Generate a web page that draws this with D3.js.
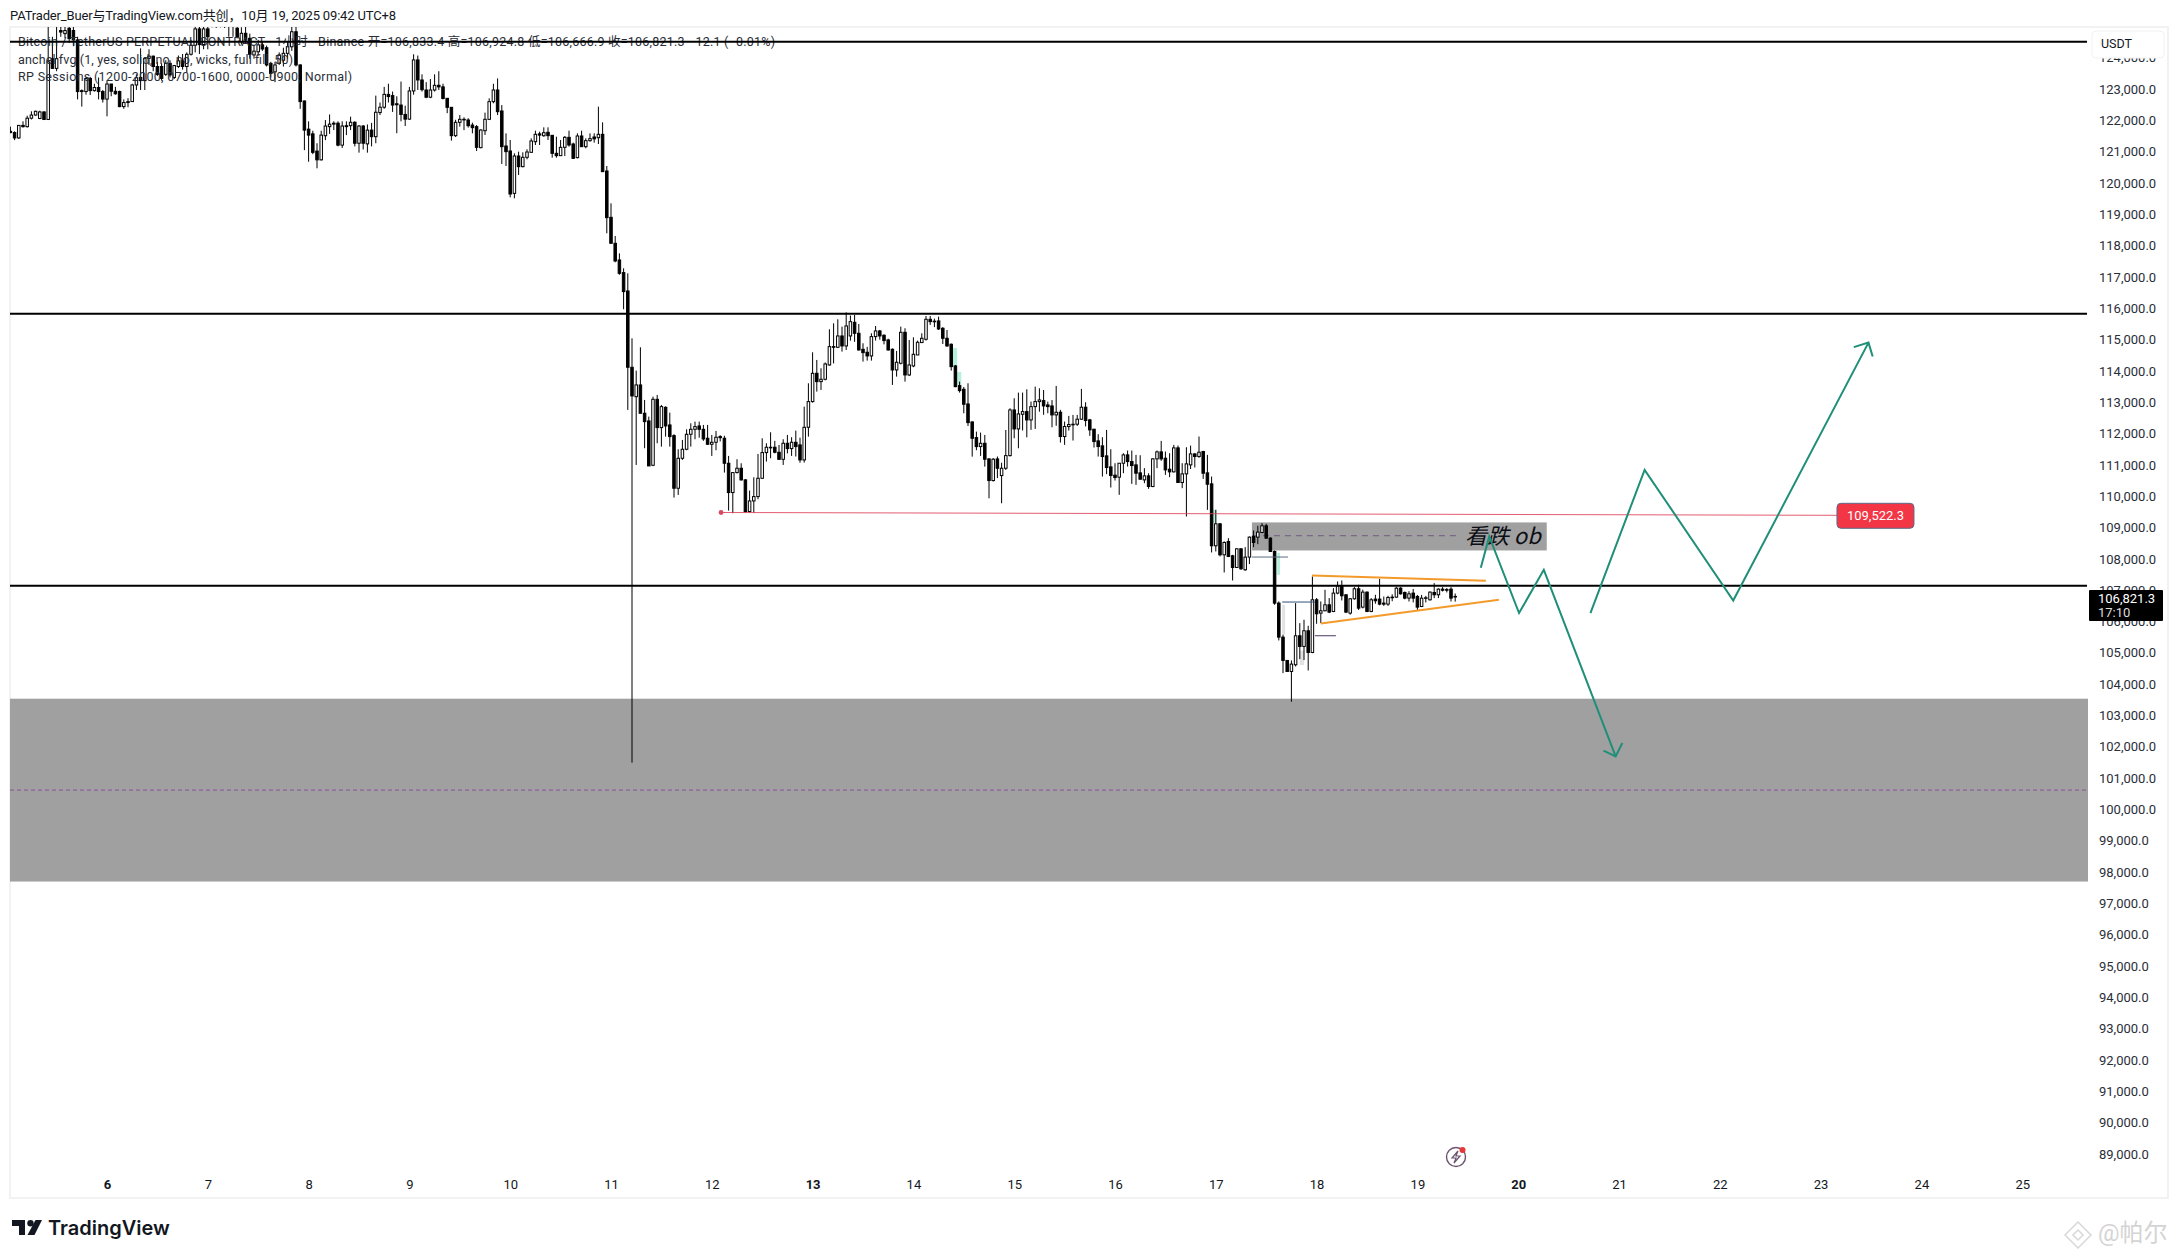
<!DOCTYPE html>
<html lang="zh">
<head>
<meta charset="UTF-8">
<title>BTCUSDT 1h</title>
<script src="https://d3js.org/d3.v7.min.js"></script>
<style>
  html, body { margin: 0; padding: 0; background: #fff; }
  svg { display: block; }
  text { font-family: Roboto, "Noto Sans CJK SC", sans-serif; fill: #131722; }
  .price-axis text, .time-axis text { font-size: 13px; }
  .price-axis text { fill: #2a2e39; }
  .time-axis .bold { font-weight: 700; }
  .legend text { font-size: 12.5px; fill: #2a2e39; }
</style>
</head>
<body>
<svg id="chart" width="2178" height="1258"></svg>
<script>
// first candle is 23 hours before Oct 6 00:00 (UTC+8), one candle per hour
const firstHour = -23;
const opens = [121680,121640,121470,121870,121830,122100,122200,122090,122300,122060,124000,123690,124900,124800,124970,124900,124600,122950,122950,123370,122980,123080,122950,122710,123190,122960,122950,122470,122600,122630,123160,123400,123300,124010,124080,123750,123750,123500,123850,123400,123750,123930,123750,124140,124430,124950,124450,124950,
125400,125600,125300,125700,125400,125100,124970,124540,124810,124650,124120,124220,124440,124350,123850,123580,123850,123950,124170,124380,124860,123800,122650,121750,121600,121050,120770,121540,121830,121910,121940,121240,121860,121860,121970,121300,121850,121280,121720,121510,122280,122450,122860,122820,122560,122520,122220,122070,122970,123960,123320,123000,122770,123000,123150,123100,122734,122447,121542,121968,122064,122042,121880,121830,121160,121700,122064,122628,123000,122330,121212,121053,119700,120893,120553,120851,121010,121350,121600,121540,121650,121553,120978,120904,121170,121489,121276,120840,121532,121191,121383,121500,121478,121585,120415,118935,118106,117574,117170,
116584,114148,113210,113584,112680,112435,111020,113126,112222,112870,112307,111966,110286,111243,111530,112009,112168,112275,112168,111882,111690,111754,111935,111882,111084,110148,110786,110925,110553,109541,109881,110020,110605,111424,111595,111595,111435,111210,111722,111552,111754,111670,111190,112232,113052,113956,113690,113765,114222,114808,114786,115148,114829,115148,115584,115233,114722,114627,114510,115127,115308,115170,115021,114722,114063,114276,115265,113903,114190,114541,114936,115042,115680,115620,115627,115393,115073,114882,114190,113563,113446,112977,112403,111903,111616,111722,111222,110531,111222,110690,110925,111328,112786,112180,112648,112733,112467,112892,113052,113084,112945,112914,112627,
112713,111937,112256,112320,112330,112490,112873,112469,112171,111798,111639,111319,110968,110703,110639,111085,111351,111138,111032,110777,110553,110681,110341,111224,111447,111245,110894,110809,111575,110469,110745,111032,111383,111298,111458,110777,110426,108449,109151,108161,108587,108130,107757,108353,107683,108087,108747,108725,108874,109087,108693,108268,106619,105533,104789,104437,104650,105576,105236,105736,105044,106725,106300,106374,106565,106353,106938,107172,106885,106300,106757,107076,106491,106970,106353,106747,106747,106619,106587,106810,106810,107097,106959,106778,106938,106831,106512,106778,106725,106959,106885,107065,107050,107065,106833];
const highs = [121830,121680,121880,122000,122180,122320,122340,122340,122320,125100,124700,125100,125100,125100,125100,125100,124700,123020,123400,123420,123200,123400,123000,123300,123200,123100,122980,122700,122740,123200,123500,124330,124050,124300,124100,123900,123850,123950,123950,123800,124100,124150,124200,124600,125100,125200,125200,125200,
125900,125900,126000,126100,125700,125600,125200,125000,125100,124800,124450,124600,124550,124420,123900,123900,124200,124350,124550,125100,125100,123820,122660,122000,121700,121300,121700,122040,122220,122000,122000,122000,122000,122150,122000,121880,121880,121900,121950,122820,122600,123100,123200,122950,122800,123270,122500,123100,124140,124100,123500,123250,123350,123500,123600,123200,122734,122447,122050,122200,122128,122100,121957,121880,121745,122277,122734,123200,123370,122520,121617,121404,120978,121032,121010,121106,121457,121702,121670,121808,121808,121564,121510,121404,121532,121702,121319,121617,121702,121457,121617,121617,122468,121968,120574,119382,118340,117786,117308,
117148,115073,114041,114786,113105,112573,113211,113265,112945,112900,112700,112009,111530,111828,112168,112360,112413,112413,112307,112307,111988,112116,111980,111960,111318,110800,111212,111084,110580,110212,110637,111381,111881,111722,112073,111800,111669,111850,111988,111914,112126,111900,112892,113637,114627,114382,114116,114300,115361,115552,115680,115446,115900,115800,115818,115531,114914,114800,115233,115467,115340,115200,115060,114750,114669,115446,115393,115020,115105,115000,115233,115786,115786,115700,115765,115430,115339,114910,114220,113690,113520,113637,112420,112094,112063,111988,111250,111250,111300,111100,112147,112840,113158,113339,113340,113445,113052,113531,113477,113424,113050,113100,113552,
112788,112415,112596,112628,112628,113458,113032,112500,112180,112011,111915,112149,111532,111085,111085,111404,111490,111490,111351,111340,110926,110766,111245,111490,111798,111458,111404,111671,111649,111085,111596,111649,111400,111937,111480,111351,110660,109598,109172,108590,108693,108160,108370,108370,108406,108747,108938,109087,109172,109151,108720,108300,106672,105608,104800,104789,106619,105980,106087,105895,107470,106780,106672,107044,106780,107097,107310,107342,106900,106780,107129,107204,107050,106990,106780,106885,107395,106830,106853,106900,107129,107130,106990,107000,107070,106880,106880,106850,106990,107257,107090,107130,107100,107130,106925];
const lows = [121620,121400,121440,121800,121800,122060,122180,122070,122040,122040,123680,123600,124700,124650,124500,124400,122700,122470,122850,122840,122950,122700,122600,122160,122800,122850,122450,122400,122450,122620,123000,123000,123000,123800,123600,123450,123300,123450,123400,123350,123700,123650,123550,124100,124200,124150,124300,124300,
125000,124980,125000,124980,124700,124700,124650,124450,124500,124000,124000,124100,124250,123750,123400,123250,123800,123750,124000,124250,123750,122400,121080,120710,120950,120500,120750,121400,121600,121720,121200,121150,121560,121720,121200,121000,121100,121000,121200,121300,122200,122400,122600,122300,121620,122000,121850,122050,122850,123000,122950,122740,122740,122950,123000,122700,122260,121383,121500,121830,121720,121800,121617,121053,121138,121564,122040,122575,122200,120638,120574,119574,119542,120287,120531,120787,121000,121244,121244,121510,121404,120840,120840,120893,120893,121191,120797,120819,121191,121138,121351,121319,121276,120393,118425,118106,117499,117100,116000,
112786,101525,111030,112680,111563,110999,110990,111722,111615,111934,111615,109987,110072,111190,111500,111615,111850,111900,111800,111670,111318,111500,111780,110786,109572,109488,110760,110530,109500,109510,109500,109934,110580,111137,111243,111400,111190,111030,111400,111318,111300,111100,111105,111934,113020,113371,113424,113730,114200,114270,114760,114648,114700,114999,114960,114680,114329,114360,114360,115000,115030,114880,114680,113584,113850,114240,113690,113870,114150,114900,115000,115000,115500,115430,115340,114892,114800,114042,113510,113340,112680,112275,111296,111500,111318,110977,109966,110500,110610,109807,110870,111300,111881,111562,112130,111913,112150,112180,112730,112630,112680,112232,112280,
111745,111671,112128,111809,112277,112470,112260,111958,111586,111298,110660,110734,110309,110532,110075,110766,110979,110426,110394,110560,110447,110266,110320,110926,111160,110713,110639,110790,110469,110288,109383,110900,110947,111260,110585,109596,108236,108268,108110,107597,108090,107342,107740,107680,107650,107864,108406,108500,108850,108670,108250,106565,105427,104384,104437,103469,104597,104831,104800,104469,105020,105959,105980,106360,106300,106330,106900,106704,106300,106250,106730,106400,106450,106330,106330,106600,106550,106530,106530,106680,106790,106890,106740,106670,106640,106400,106490,106640,106700,106780,106780,106990,106960,106670,106667];
const closes = [121640,121470,121870,121830,122100,122200,122320,122300,122060,123900,123690,124000,124850,124900,124640,124600,122950,122980,123370,122980,123080,122950,122710,123190,122960,122880,122470,122600,122630,123160,123390,123300,124010,124080,123750,123500,123370,123850,123480,123780,123930,123750,124140,124430,124950,124450,124950,124700,
125600,125300,125700,125400,125100,125300,124700,124810,124600,124140,124240,124440,124310,123800,123530,123800,124120,124170,124380,124860,123800,122630,121720,121560,121010,120770,121560,121850,121910,121940,121240,121850,121830,121970,121300,121850,121300,121720,121510,122290,122450,122860,122790,122520,122530,122220,122070,122970,123960,123320,123010,122770,123000,123150,123100,122730,122447,121542,121968,122064,122050,121860,121798,121170,121723,122064,122628,123000,122308,121191,121032,119680,120893,120553,120851,121021,121372,121585,121560,121638,121542,120978,120904,121170,121489,121244,120819,121532,121191,121383,121447,121440,121585,120393,118925,118106,117542,117148,116563,
114148,113233,113584,112680,112413,110999,113126,112222,112892,112275,111935,110286,111243,111530,112009,112168,112254,112168,111860,111690,111754,111914,111900,111084,110148,110786,110925,110553,109541,109881,110020,110605,111424,111595,111580,111435,111210,111722,111552,111754,111616,111190,112232,113052,113956,113690,113765,114254,114808,114786,115148,114829,115467,115605,115233,114701,114616,114510,115127,115308,115148,115000,114701,114063,114308,115265,113903,114222,114562,114946,115073,115680,115605,115620,115371,115073,114829,114169,113531,113403,112967,112381,111881,111616,111722,111212,110531,111212,110925,110925,111328,112786,112180,112658,112733,112466,112892,113052,113105,112914,112892,112627,112712,
111937,112256,112320,112330,112490,112873,112447,112149,111777,111617,111298,110947,110692,110628,111085,111351,111138,111010,110766,110575,110681,110341,111224,111447,111224,110873,110809,111575,110469,110745,111064,111383,111298,111436,110766,110415,108449,109151,108161,108555,108108,107757,108353,107715,108087,108725,108555,108885,109087,108693,108268,106619,105533,104789,104437,104672,105576,105236,105736,105044,106725,106278,106374,106565,106331,106938,107172,106853,106331,106757,107076,106459,106970,106353,106725,106693,106587,106587,106799,106800,107097,106916,106778,106916,106778,106491,106778,106790,106970,106885,107065,107030,107040,106778,106821];

// horizontal levels and zones, in price
const levels = [124540, 115860, 107174];
const priceTicks = d3.range(89000, 124001, 1000);
const dayLabels = [6,7,8,9,10,11,12,13,14,15,16,17,18,19,20,21,22,23,24,25];
const boldDays = [6,13,20];
const demandZone = {top: 103567, bottom: 97730, mid: 100650};
const orderBlock = {h0: 272.6, h1: 342.8, top: 109195, bottom: 108300, mid: 108770, midEnd: 321.4};
const redLine = [[146.2,109512],[411.9,109422]];
const orangeLines = [[[286.9,107501],[328.3,107332]], [[289,105970],[331.4,106726]]];
const greenPaths = [
  [[327.1,107747],[329.1,108746],[336.2,106302],[342.1,107683],[359.2,101726]],
  [[356.3,101907],[359.2,101726],[360.8,102153]],
  [[353.2,106302],[366.1,110874],[387.2,106704],[419.4,114936]],
  [[415.9,114790],[419.4,114936],[420.4,114490]]
];
const stubs = [[272.6,281.2,108090,"#5d6b80"],[279.8,287.6,106653,"#33507a"],[287.6,292.6,105577,"#4b3a63"]];
const fvgs = [
  [201.4,202.4,114767,114160,"#b5f0dc"],[202.4,203.4,114000,113586,"#b5f0dc"],
  [263.3,264.2,109600,109183,"#b5f0dc"],[278.6,279.3,108225,107525,"#b5f0dc"],
  [279.8,280.5,106567,105610,"#e2e2e2"],[284,285,105100,104640,"#e2e2e2"]
];

const svg = d3.select("#chart");
const plot = {left: 10, right: 2088, top: 27, bottom: 1198};

// Oct 6 00:00 is hour 0, 4.2px per hour
const x = d3.scaleLinear().domain([0, 480]).range([107, 2123]);
const y = d3.scaleLinear().domain([123000, 89000]).range([90, 1155]);

svg.append("defs").append("clipPath").attr("id", "plot-clip").append("rect")
  .attr("x", plot.left).attr("y", plot.top)
  .attr("width", plot.right - plot.left).attr("height", plot.bottom - plot.top);

svg.append("rect").attr("x", plot.left).attr("y", plot.top)
  .attr("width", 2168 - plot.left).attr("height", plot.bottom - plot.top)
  .attr("fill", "#fff").attr("stroke", "#f2f2f2").attr("stroke-width", 2);

const g = svg.append("g").attr("clip-path", "url(#plot-clip)");

// zones
g.append("rect").attr("x", plot.left).attr("width", plot.right - plot.left)
  .attr("y", y(demandZone.top)).attr("height", y(demandZone.bottom) - y(demandZone.top))
  .attr("fill", "#a0a0a0");
g.append("line").attr("x1", plot.left).attr("x2", plot.right)
  .attr("y1", y(demandZone.mid)).attr("y2", y(demandZone.mid))
  .attr("stroke", "#8b4f9e").attr("stroke-width", 1).attr("stroke-dasharray", "4 3");
g.append("rect").attr("x", x(orderBlock.h0)).attr("width", x(orderBlock.h1) - x(orderBlock.h0))
  .attr("y", y(orderBlock.top)).attr("height", y(orderBlock.bottom) - y(orderBlock.top))
  .attr("fill", "#a0a0a0");
g.append("line").attr("x1", x(orderBlock.h0)).attr("x2", x(orderBlock.midEnd))
  .attr("y1", y(orderBlock.mid)).attr("y2", y(orderBlock.mid))
  .attr("stroke", "#6f5a80").attr("stroke-width", 1).attr("stroke-dasharray", "6 5");

g.selectAll(".fvg").data(fvgs).join("rect")
  .attr("x", d => x(d[0])).attr("width", d => x(d[1]) - x(d[0]))
  .attr("y", d => y(d[2])).attr("height", d => y(d[3]) - y(d[2]))
  .attr("fill", d => d[4]);

g.append("text").attr("x", x(orderBlock.h1) - 6).attr("y", y(orderBlock.mid) + 8)
  .attr("text-anchor", "end").attr("font-size", 22).attr("font-style", "italic")
  .style("font-family", '"Noto Sans CJK SC", sans-serif').style("fill", "#0b0e14").text("看跌 ob");

// candles
const candles = opens.map((o, i) => ({h: firstHour + i, o, hi: highs[i], lo: lows[i], c: closes[i]}));
const candle = g.selectAll(".candle").data(candles).join("g").attr("class", "candle");
candle.append("line")
  .attr("x1", d => x(d.h)).attr("x2", d => x(d.h))
  .attr("y1", d => y(d.hi)).attr("y2", d => y(d.lo))
  .attr("stroke", "#000").attr("stroke-width", 1);
candle.append("rect")
  .attr("x", d => x(d.h) - 1.25).attr("width", 2.5)
  .attr("y", d => y(Math.max(d.o, d.c)))
  .attr("height", d => Math.max(Math.abs(y(d.o) - y(d.c)), 0.6))
  .attr("fill", d => d.c >= d.o ? "#fff" : "#000")
  .attr("stroke", "#000").attr("stroke-width", 1);

g.selectAll(".stub").data(stubs).join("line")
  .attr("x1", d => x(d[0])).attr("x2", d => x(d[1]))
  .attr("y1", d => y(d[2])).attr("y2", d => y(d[2]))
  .attr("stroke", d => d[3]).attr("stroke-width", 1);

// legend sits under the level lines, widths stretched to what the screenshot shows
const legendLines = [
  ["Bitcoin / TetherUS PERPETUAL CONTRACT · 1小时 · Binance  开=106,833.4  高=106,924.8  低=106,666.9  收=106,821.3  −12.1 (−0.01%)", 46, 757],
  ["anchel fvg (1, yes, solid, no, no, wicks, full fill, 50)", 64, 275],
  ["RP Sessions (1200-2000, 0700-1600, 0000-0900, Normal)", 81, 334]
];
const legend = svg.append("g").attr("class", "legend");
legend.selectAll("text").data(legendLines).join("text")
  .attr("x", 18).attr("y", d => d[1]).attr("textLength", d => d[2]).attr("lengthAdjust", "spacing")
  .text(d => d[0]);

const over = svg.append("g").attr("clip-path", "url(#plot-clip)");
over.selectAll(".level").data(levels).join("line")
  .attr("x1", plot.left).attr("x2", plot.right - 1)
  .attr("y1", d => y(d)).attr("y2", d => y(d))
  .attr("stroke", "#000").attr("stroke-width", 2);

const line = d3.line().x(d => x(d[0])).y(d => y(d[1]));
over.append("path").attr("d", line(redLine)).attr("fill", "none")
  .attr("stroke", "#df4058").attr("stroke-opacity", 0.85).attr("stroke-width", 1);
over.append("circle").attr("cx", x(redLine[0][0])).attr("cy", y(redLine[0][1])).attr("r", 2.4).attr("fill", "#d9485f");
over.selectAll(".orange").data(orangeLines).join("path").attr("d", line)
  .attr("fill", "none").attr("stroke", "#f39a2b").attr("stroke-width", 2);
over.selectAll(".green").data(greenPaths).join("path").attr("d", line)
  .attr("fill", "none").attr("stroke", "#1f8f78").attr("stroke-width", 2);

// red price tag at the end of the line
const tag = svg.append("g").attr("transform", `translate(${x(redLine[1][0])},${y(redLine[1][1]) - 12})`);
tag.append("rect").attr("width", 77).attr("height", 25).attr("rx", 4)
  .attr("fill", "#f23645").attr("stroke", "#5d6b8a").attr("stroke-width", 1);
tag.append("text").attr("x", 38.5).attr("y", 17).attr("text-anchor", "middle")
  .attr("font-size", 13).style("fill", "#fff").text("109,522.3");

// axes
const priceAxis = svg.append("g").attr("class", "price-axis").attr("transform", "translate(2099,-1)")
  .call(d3.axisRight(y).tickValues(priceTicks).tickFormat(d3.format(",.1f")).tickSize(0).tickPadding(0));
priceAxis.select(".domain").remove();

const timeAxis = svg.append("g").attr("class", "time-axis").attr("transform", "translate(0,1179.5)")
  .call(d3.axisBottom(x).tickValues(dayLabels.map(d => (d - 6) * 24)).tickFormat(h => h / 24 + 6).tickSize(0).tickPadding(0));
timeAxis.select(".domain").remove();
timeAxis.selectAll("text").classed("bold", h => boldDays.includes(h / 24 + 6));

// USDT box covers the top of the 124,000 label
svg.append("rect").attr("x", 2092).attr("y", 31).attr("width", 72).attr("height", 27).attr("rx", 4)
  .attr("fill", "#fff").attr("stroke", "#f2f2f2");
svg.append("text").attr("x", 2101).attr("y", 48).attr("font-size", 12.5).text("USDT");

// last price tag
const lastTag = svg.append("g").attr("transform", "translate(2089,590)");
lastTag.append("rect").attr("width", 74).attr("height", 31).attr("rx", 1).attr("fill", "#000");
lastTag.append("text").attr("x", 9).attr("y", 13).attr("font-size", 13).style("fill", "#fff").text("106,821.3");
lastTag.append("text").attr("x", 9).attr("y", 27).attr("font-size", 13).style("fill", "#ddd").text("17:10");

// header
svg.append("text").attr("x", 10).attr("y", 20).attr("font-size", 13).attr("textLength", 386)
  .text("PATrader_Buer与TradingView.com共创，10月 19, 2025 09:42 UTC+8");

// TradingView logo
const logo = svg.append("g").attr("fill", "#131722");
logo.append("path").attr("d", "M12 1220h13v15h-6v-9h-7z");
logo.append("circle").attr("cx", 30.5).attr("cy", 1223.3).attr("r", 3.2);
logo.append("path").attr("d", "M35.5 1220h6.5l-7.5 15h-7z");
svg.append("text").attr("x", 48).attr("y", 1235).attr("font-size", 20).attr("font-weight", 600)
  .style("font-family", "Inter, sans-serif").text("TradingView");

// lightning icon near the bottom
const bolt = svg.append("g").attr("transform", "translate(1456,1157)");
bolt.append("circle").attr("r", 9.5).attr("fill", "#fff").attr("stroke", "#6d5470").attr("stroke-width", 1.4);
bolt.append("path").attr("d", "M2 -6L-4 1H0L-2 6L4 -1H0Z").attr("fill", "none").attr("stroke", "#6d5470").attr("stroke-width", 1.2);
bolt.append("circle").attr("cx", 6.5).attr("cy", -7).attr("r", 3).attr("fill", "#e5383b");

// watermark
const wm = svg.append("g").attr("transform", "translate(2078,1235)").attr("fill", "none").attr("stroke", "#d8d8d8").attr("stroke-width", 1.5);
wm.append("path").attr("d", "M0 -13L13 0L0 13L-13 0Z");
wm.append("path").attr("d", "M0 -5L5 0L0 5L-5 0Z");
svg.append("text").attr("x", 2098).attr("y", 1241).attr("font-size", 24).style("fill", "#d4d4d4").text("@帕尔");
</script>
</body>
</html>
